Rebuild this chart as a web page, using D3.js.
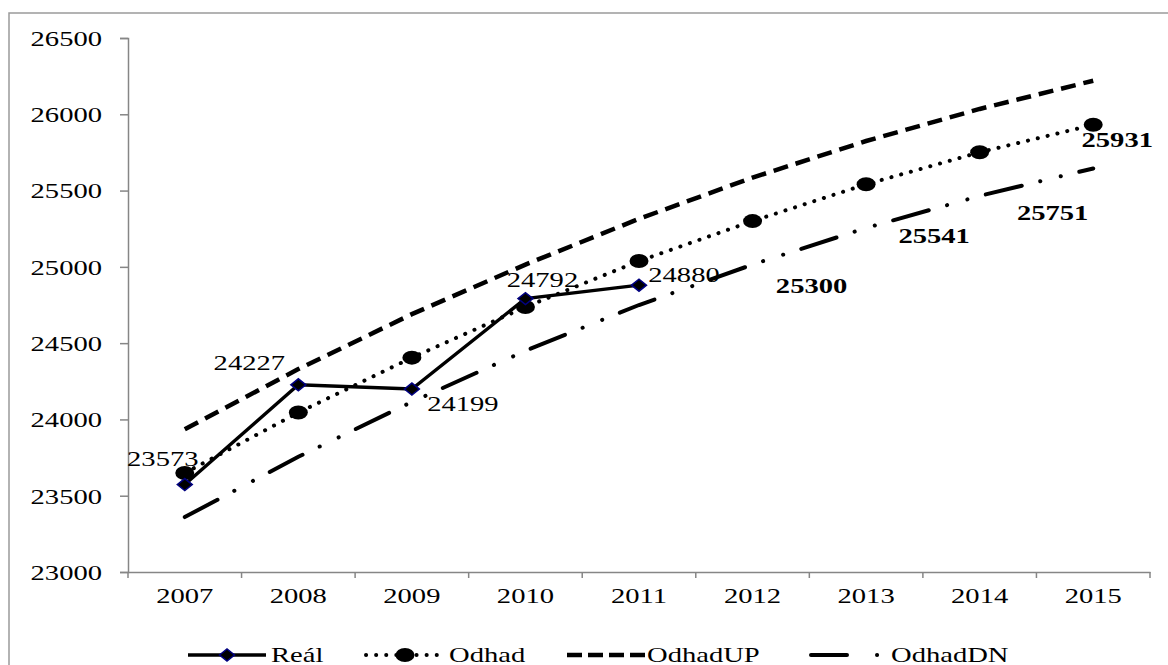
<!DOCTYPE html>
<html>
<head>
<meta charset="utf-8">
<script src="https://cdn.jsdelivr.net/npm/d3@7"></script>
<style>
  body { margin: 0; background: #fff; }
  svg { display: block; font-family: "Liberation Serif", "Times New Roman", serif; }
</style>
</head>
<body>
<svg id="graf" width="1168" height="665"></svg>
<script>
var roky = ["2007","2008","2009","2010","2011","2012","2013","2014","2015"];
var real = [23573, 24227, 24199, 24792, 24880];
var odhad = [23649, 24045, 24405, 24737, 25038, 25300, 25541, 25751, 25931];
var odhadUP = [23935, 24330, 24690, 25015, 25315, 25585, 25825, 26035, 26220];
var odhadDN = [23360, 23755, 24115, 24450, 24750, 25015, 25255, 25465, 25645];
var yTicks = [23000, 23500, 24000, 24500, 25000, 25500, 26000, 26500];

// text in the picture is stretched sideways
var sx = 1.33;

var svg = d3.select('#graf');

// outer frame
svg.append('rect')
    .attr('x', 9).attr('y', 13)
    .attr('width', 1300).attr('height', 800)
    .attr('fill', 'none')
    .attr('stroke', '#9a9a9a')
    .attr('stroke-width', 1.5);

const x = d3.scaleBand()
    .domain(roky)
    .range([128, 1150]);

const y = d3.scaleLinear()
    .domain([23000, 26500])
    .range([572, 38]);

function cx(i){ return x(roky[i]) + x.bandwidth()/2; }

// y axis
var yAx = svg.append('g')
    .attr('transform', 'translate(128,0)')
    .call(d3.axisLeft(y).tickValues(yTicks).tickSize(8).tickFormat(d3.format('d')));
yAx.select('.domain').attr('stroke', '#868686').attr('stroke-width', 1.5);
yAx.selectAll('.tick line').attr('stroke', '#868686').attr('stroke-width', 1.5);
yAx.selectAll('.tick text')
    .attr('x', -26 / sx)
    .attr('dy', '0.34em')
    .attr('transform', 'scale(' + sx + ',1)')
    .style('font-size', '21.5px')
    .style('font-family', '"Liberation Serif", serif')
    .attr('fill', '#000');

// x axis
var xAx = svg.append('g')
    .attr('transform', 'translate(0,572)')
    .call(d3.axisBottom(x).tickSize(0));
xAx.select('.domain').attr('stroke', '#868686').attr('stroke-width', 1.5);
xAx.selectAll('.tick text')
    .attr('y', 31)
    .attr('dy', 0)
    .attr('transform', 'scale(' + sx + ',1)')
    .style('font-size', '21.5px')
    .style('font-family', '"Liberation Serif", serif')
    .attr('fill', '#000');
// centre labels again after the scaling
xAx.selectAll('.tick').each(function(d){
    var t = d3.select(this);
    var pos = x(d) + x.bandwidth()/2;
    t.attr('transform', null);
    t.select('text').attr('x', pos / sx);
});
svg.selectAll('line.xtick')
    .data(d3.range(roky.length + 1))
    .enter().append('line')
    .attr('class', 'xtick')
    .attr('x1', function(i){ return 128 + i * x.step(); })
    .attr('x2', function(i){ return 128 + i * x.step(); })
    .attr('y1', 572).attr('y2', 578)
    .attr('stroke', '#868686').attr('stroke-width', 1.5);

var line = d3.line()
    .x(function(d, i){ return cx(i); })
    .y(function(d){ return y(d); });

// OdhadUP
svg.append('path').datum(odhadUP)
    .attr('d', line)
    .attr('fill', 'none').attr('stroke', '#000')
    .attr('stroke-width', 4.5)
    .attr('stroke-dasharray', '15 8');

// OdhadDN
svg.append('path').datum(odhadDN)
    .attr('d', line)
    .attr('fill', 'none').attr('stroke', '#000')
    .attr('stroke-width', 4)
    .attr('stroke-linecap', 'round')
    .attr('stroke-dasharray', '37 19 0.1 21 0.1 19');

// Odhad
svg.append('path').datum(odhad)
    .attr('d', line)
    .attr('fill', 'none').attr('stroke', '#000')
    .attr('stroke-width', 4)
    .attr('stroke-linecap', 'round')
    .attr('stroke-dasharray', '0.1 10');
svg.selectAll('ellipse.odhad')
    .data(odhad)
    .enter().append('ellipse')
    .attr('class', 'odhad')
    .attr('cx', function(d, i){ return cx(i); })
    .attr('cy', function(d){ return y(d); })
    .attr('rx', 9.5).attr('ry', 7)
    .attr('fill', '#000');

// Real
svg.append('path').datum(real)
    .attr('d', line)
    .attr('fill', 'none').attr('stroke', '#000')
    .attr('stroke-width', 3.4);

function diamond(g, px, py){
    g.append('path')
        .attr('d', 'M' + (px-7.5) + ',' + py + 'L' + px + ',' + (py-6) + 'L' + (px+7.5) + ',' + py + 'L' + px + ',' + (py+6) + 'Z')
        .attr('fill', '#000')
        .attr('stroke', '#000080')
        .attr('stroke-width', 1.5);
}
real.forEach(function(d, i){ diamond(svg, cx(i), y(d)); });

function stext(px, py, s, anchor, bold){
    svg.append('text')
        .attr('transform', 'translate(' + px + ',' + py + ') scale(' + sx + ',1)')
        .attr('text-anchor', anchor)
        .style('font-size', '21.5px')
        .style('font-weight', bold ? 'bold' : 'normal')
        .text(s);
}

// data labels
var realLbl = [[-22, -19], [-49, -15], [51, 22], [17, -12], [45, -3]];
real.forEach(function(d, i){
    stext(cx(i) + realLbl[i][0], y(d) + realLbl[i][1], d, 'middle', false);
});
var odhadLbl = {5: [59, 72], 6: [68, 59], 7: [73, 68], 8: [24, 22]};
odhad.forEach(function(d, i){
    if (odhadLbl[i]) {
        stext(cx(i) + odhadLbl[i][0], y(d) + odhadLbl[i][1], d, 'middle', true);
    }
});

// legend
var ly = 655;
svg.append('line').attr('x1', 188).attr('x2', 266).attr('y1', ly).attr('y2', ly)
    .attr('stroke', '#000').attr('stroke-width', 3.4);
diamond(svg, 227, ly);
stext(271, ly + 7, 'Reál', 'start', false);

svg.append('line').attr('x1', 366).attr('x2', 440).attr('y1', ly).attr('y2', ly)
    .attr('stroke', '#000').attr('stroke-width', 4)
    .attr('stroke-linecap', 'round').attr('stroke-dasharray', '0.1 10');
svg.append('ellipse').attr('cx', 405).attr('cy', ly).attr('rx', 9.5).attr('ry', 7).attr('fill', '#000');
stext(449, ly + 7, 'Odhad', 'start', false);

svg.append('line').attr('x1', 567).attr('x2', 646).attr('y1', ly).attr('y2', ly)
    .attr('stroke', '#000').attr('stroke-width', 4.5).attr('stroke-dasharray', '15 6');
stext(647, ly + 7, 'OdhadUP', 'start', false);

svg.append('line').attr('x1', 811).attr('x2', 880).attr('y1', ly).attr('y2', ly)
    .attr('stroke', '#000').attr('stroke-width', 4)
    .attr('stroke-linecap', 'round').attr('stroke-dasharray', '36 30 0.1 30');
stext(891, ly + 7, 'OdhadDN', 'start', false);
</script>
</body>
</html>
